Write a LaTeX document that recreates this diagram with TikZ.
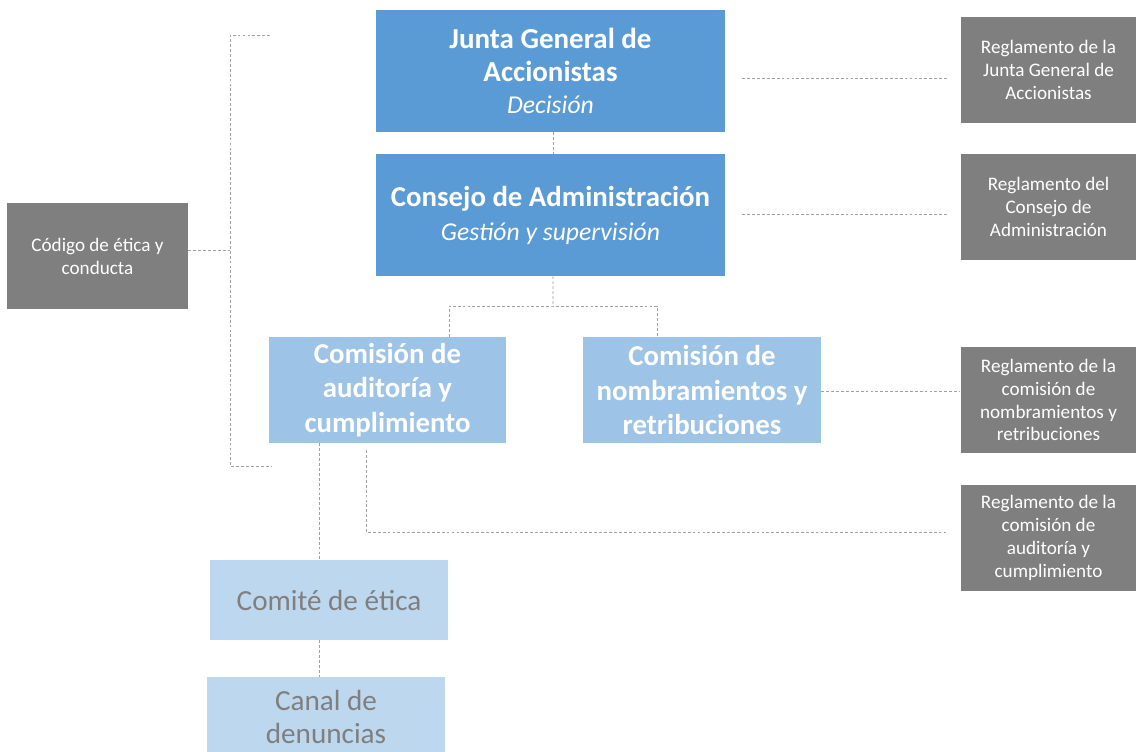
\documentclass[tikz,border=0pt]{standalone}
\usepackage{fontspec}
\setmainfont{Carlito}
\definecolor{azul}{HTML}{5B9BD5}
\definecolor{azulmed}{HTML}{9DC3E6}
\definecolor{azulcl}{HTML}{BDD7EE}
\definecolor{gris}{HTML}{7F7F7F}
\definecolor{linea}{HTML}{A0A0A0}
\tikzset{
  organo/.style={fill=azul, text=white, align=center, inner sep=0pt,
    minimum width=6.98cm, minimum height=2.44cm},
  comision/.style={fill=azulmed, text=white, align=center, inner sep=0pt,
    minimum width=4.76cm, minimum height=2.12cm,
    font=\fontsize{16.4}{19.6}\selectfont\bfseries},
  comite/.style={fill=azulcl, text=gris, align=center, inner sep=0pt,
    minimum width=4.76cm, minimum height=1.6cm,
    font=\fontsize{16.6}{19.3}\selectfont},
  norma/.style={fill=gris, text=white, align=center, inner sep=0pt,
    minimum width=3.5cm, minimum height=2.12cm,
    font=\fontsize{10.9}{13}\selectfont},
  con/.style={draw=linea, line width=0.5pt, dash pattern=on 1.6pt off 1.2pt}
}
\begin{document}
\begin{tikzpicture}[x=0.02cm, y=-0.02cm]
    \clip (0,0) rectangle (1136,751);
    % organos de gobierno
    \node[organo, font=\fontsize{16.5}{18.7}\selectfont\bfseries] (junta) at (550.5,71)
      {Junta General de\\Accionistas\\{\fontsize{14.6}{18.7}\selectfont\mdseries\itshape Decisión}};
    \node[organo, font=\fontsize{16.4}{19.3}\selectfont\bfseries] (consejo) at (550.5,215)
      {Consejo de Administración\\{\fontsize{14.6}{19.3}\selectfont\mdseries\itshape Gestión y supervisión}};
    % comisiones
    \node[comision] (auditoria) at (387.5,390) {Comisión de\\auditoría y\\cumplimiento};
    \node[comision] (nombram) at (702,390) {Comisión de\\nombramientos y\\retribuciones};
    % comite y canal
    \node[comite] (etica) at (329,600) {Comité de ética};
    \node[comite] (canal) at (326,717) {Canal de\\denuncias};
    % normas
    \node[norma, minimum width=3.62cm] (codigo) at (97.5,256) {Código de ética y\\conducta};
    \node[norma] (rjunta) at (1048.5,70) {Reglamento de la\\Junta General de\\Accionistas};
    \node[norma] (rconsejo) at (1048.5,207) {Reglamento del\\Consejo de\\Administración};
    \node[norma] (rnombram) at (1048.5,400) {Reglamento de la\\comisión de\\nombramientos y\\retribuciones};
    \node[norma] (rauditoria) at (1048.5,538) {Reglamento de la\\comisión de\\auditoría y\\cumplimiento};
    % lineas
    \coordinate (reparto) at (553,306);
    \coordinate (barra) at (230,250);
    \coordinate (barrasup) at (270,35);
    \coordinate (barrainf) at (272,466);
    \draw[con] ([shift={(2.5,0)}]junta.south) -- ([shift={(2.5,0)}]consejo.north);
    \draw[con] ([shift={(2.5,0)}]consejo.south) -- (reparto);
    \draw[con] ([shift={(61.5,0)}]auditoria.north) |- (reparto) -| ([shift={(-45,0)}]nombram.north);
    \draw[con] (barrasup) -| (barra) |- (barrainf);
    \draw[con] (codigo.east |- barra) -- (barra);
    \draw[con] ([shift={(17,7)}]junta.east) -- ([shift={(-13,8)}]rjunta.west);
    \draw[con] ([shift={(17,-1)}]consejo.east) -- ([shift={(-13,7)}]rconsejo.west);
    \draw[con] ([shift={(0,1)}]nombram.east) -- ([shift={(-1,-9)}]rnombram.west);
    \draw[con] ([shift={(-21.5,7)}]auditoria.south) |- ([shift={(-14,-6)}]rauditoria.west);
    \draw[con] ([shift={(-68.5,0)}]auditoria.south) -- ([shift={(-10,0)}]etica.north);
    \draw[con] ([shift={(-10,0)}]etica.south) -- ([shift={(-7,0)}]canal.north);
\end{tikzpicture}
\end{document}
